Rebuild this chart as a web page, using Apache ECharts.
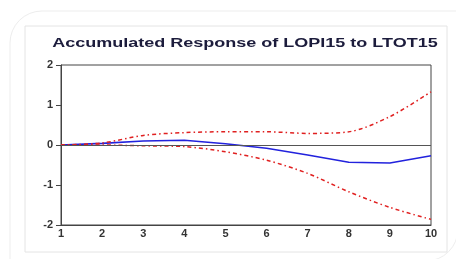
<!DOCTYPE html>
<html><head><meta charset="utf-8">
<script src="https://cdn.jsdelivr.net/npm/echarts@6/dist/echarts.min.js"></script>
<style>html,body{margin:0;padding:0;background:#fff}#c{width:456px;height:259px}</style>
</head><body><div id="c"></div>
<script>
var periods = [1,2,3,4,5,6,7,8,9,10];
var response = [0.0, 0.04, 0.1, 0.12, 0.03, -0.08, -0.25, -0.43, -0.45, -0.27];
var upperBand = [0.0, 0.05, 0.24, 0.31, 0.33, 0.33, 0.29, 0.33, 0.71, 1.33];
var lowerBand = [0.0, 0.0, -0.02, -0.04, -0.17, -0.38, -0.71, -1.17, -1.56, -1.86];
var titleText = 'Accumulated Response of LOPI15 to LTOT15';

function pairs(v){ return periods.map(function(p,i){ return [p, v[i]]; }); }

var chart = echarts.init(document.getElementById('c'), null, {renderer:'canvas'});
chart.setOption({
  animation:false,
  backgroundColor:'#fff',
  graphic:[
    {type:'rect', shape:{x:10,y:11,width:448,height:250,r:[32,0,32,0]}, style:{fill:'none',stroke:'#ededed',lineWidth:1}, z:-10},
    {type:'rect', shape:{x:25,y:26,width:422,height:226}, style:{fill:'none',stroke:'#e4e4e4',lineWidth:1}, z:-9},
    {type:'text', x:245, y:44, scaleX:1.5, style:{text:titleText, fill:'#1c1c3c', font:'bold 12px "Liberation Sans", Arial, sans-serif', textAlign:'center', textVerticalAlign:'middle'}}
  ],
  grid:{left:61, right:25, top:65, bottom:34, show:true, borderColor:'#444', borderWidth:1},
  xAxis:{type:'value', min:1, max:10, interval:1,
    axisLine:{show:true, onZero:false, lineStyle:{color:'#444'}},
    axisTick:{show:false},
    splitLine:{show:false},
    axisLabel:{color:'#333', fontSize:11, fontWeight:'bold', fontFamily:'Liberation Sans', margin:3}
  },
  yAxis:{type:'value', min:-2, max:2, interval:1,
    axisLine:{show:true, lineStyle:{color:'#444'}},
    axisTick:{show:true, length:5, lineStyle:{color:'#444'}},
    splitLine:{show:false},
    axisLabel:{color:'#333', fontSize:11, fontWeight:'bold', fontFamily:'Liberation Sans', margin:8}
  },
  series:[
    {type:'line', data:pairs(response), symbol:'none', lineStyle:{color:'#2222dd', width:1.6},
     markLine:{silent:true, symbol:'none', label:{show:false}, lineStyle:{color:'#555', type:'solid', width:1}, data:[{yAxis:0}]}},
    {type:'line', data:pairs(upperBand), symbol:'none', smooth:0.3, lineStyle:{color:'#e02020', width:1.5, type:[4,3,1.5,3]}},
    {type:'line', data:pairs(lowerBand), symbol:'none', smooth:0.3, lineStyle:{color:'#e02020', width:1.5, type:[4,3,1.5,3]}}
  ]
});
</script></body></html>
